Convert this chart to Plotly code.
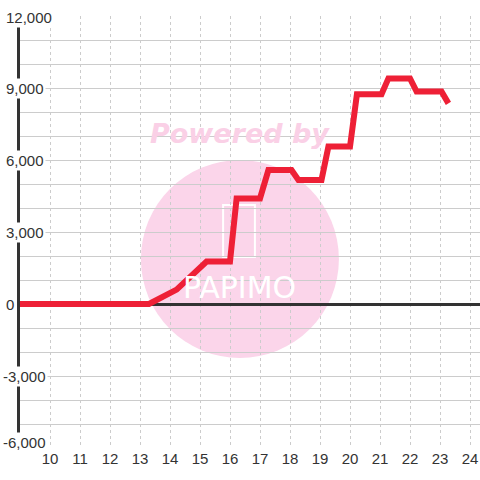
import plotly.graph_objects as go

# data (hour of day vs cumulative value)
hours = [9.0, 11.7, 13.3, 14.22, 15.22, 16.0, 16.22, 17.0, 17.28, 18.05, 18.28,
         19.05, 19.28, 20.0, 20.23, 21.05, 21.28, 22.0, 22.22, 23.05, 23.28]
values = [0, 0, 0, 600, 1770, 1770, 4400, 4400, 5580, 5580, 5170,
          5170, 6560, 6560, 8740, 8740, 9400, 9400, 8850, 8850, 8360]

x_ticks = list(range(10, 25))
y_ticks = [12000, 9000, 6000, 3000, 0, -3000, -6000]
y_tick_labels = ["12,000", "9,000", "6,000", "3,000", "0", "-3,000", "-6,000"]

FONT = "Liberation Sans, Arial, sans-serif"

fig = go.Figure()
fig.add_trace(go.Scatter(
    x=hours, y=values, mode="lines",
    line=dict(color="#EE2036", width=6),
    hoverinfo="skip", showlegend=False,
))

# watermark circle (below gridlines)
fig.add_shape(type="circle", xref="x", yref="y",
              x0=16.33 - 3.3, x1=16.33 + 3.3, y0=1875 - 4125, y1=1875 + 4125,
              fillcolor="#FBD5EA", line=dict(width=0), layer="below")
fig.add_shape(type="rect", xref="x", yref="y",
              x0=15.77, x1=16.83, y0=1960, y1=4120,
              fillcolor="rgba(0,0,0,0)", line=dict(color="white", width=2), layer="below")

annotations = [
    dict(x=16.33, y=7090, xref="x", yref="y", text="<b><i>Powered by</i></b>",
         showarrow=False, font=dict(family="DejaVu Sans, sans-serif", size=27, color="#FAD0E6")),
    dict(x=16.3, y=680, xref="x", yref="y", text="PAPIMO",
         showarrow=False, font=dict(family="DejaVu Sans, sans-serif", size=30, color="white")),
]

# y labels with white background covering axis and grid
for v, t in zip(y_ticks, y_tick_labels):
    yshift = 0
    if v == -6000:
        yshift = 6
    if v == 12000:
        yshift = -1
    left = 2 if v < 0 else 5
    annotations.append(dict(
        x=(left - 1 - 20) / 460, y=v, xref="paper", yref="y", text=t, showarrow=False,
        xanchor="left", yanchor="middle", yshift=yshift,
        font=dict(family=FONT, size=15, color="#333333"),
        bgcolor="white", borderpad=1,
    ))

fig.update_layout(
    width=480, height=480,
    margin=dict(l=20, r=0, t=16, b=32),
    paper_bgcolor="white", plot_bgcolor="white",
    annotations=annotations,
    xaxis=dict(
        range=[9, 24.333], tickvals=x_ticks, ticktext=[str(v) for v in x_ticks],
        showgrid=True, gridcolor="#cccccc", gridwidth=1, griddash="3px,3px",
        zeroline=False, showline=False, ticks="",
        tickfont=dict(family=FONT, size=15, color="#333333"),
    ),
    yaxis=dict(
        range=[-6000, 12000], dtick=1000, tick0=0,
        showgrid=True, gridcolor="#cccccc", gridwidth=1,
        zeroline=True, zerolinecolor="#333333", zerolinewidth=3,
        showline=True, linecolor="#333333", linewidth=3,
        showticklabels=False, ticks="",
    ),
)

fig.write_html("out.html", config={"displayModeBar": False},
               post_script="document.body.style.margin='0';")
